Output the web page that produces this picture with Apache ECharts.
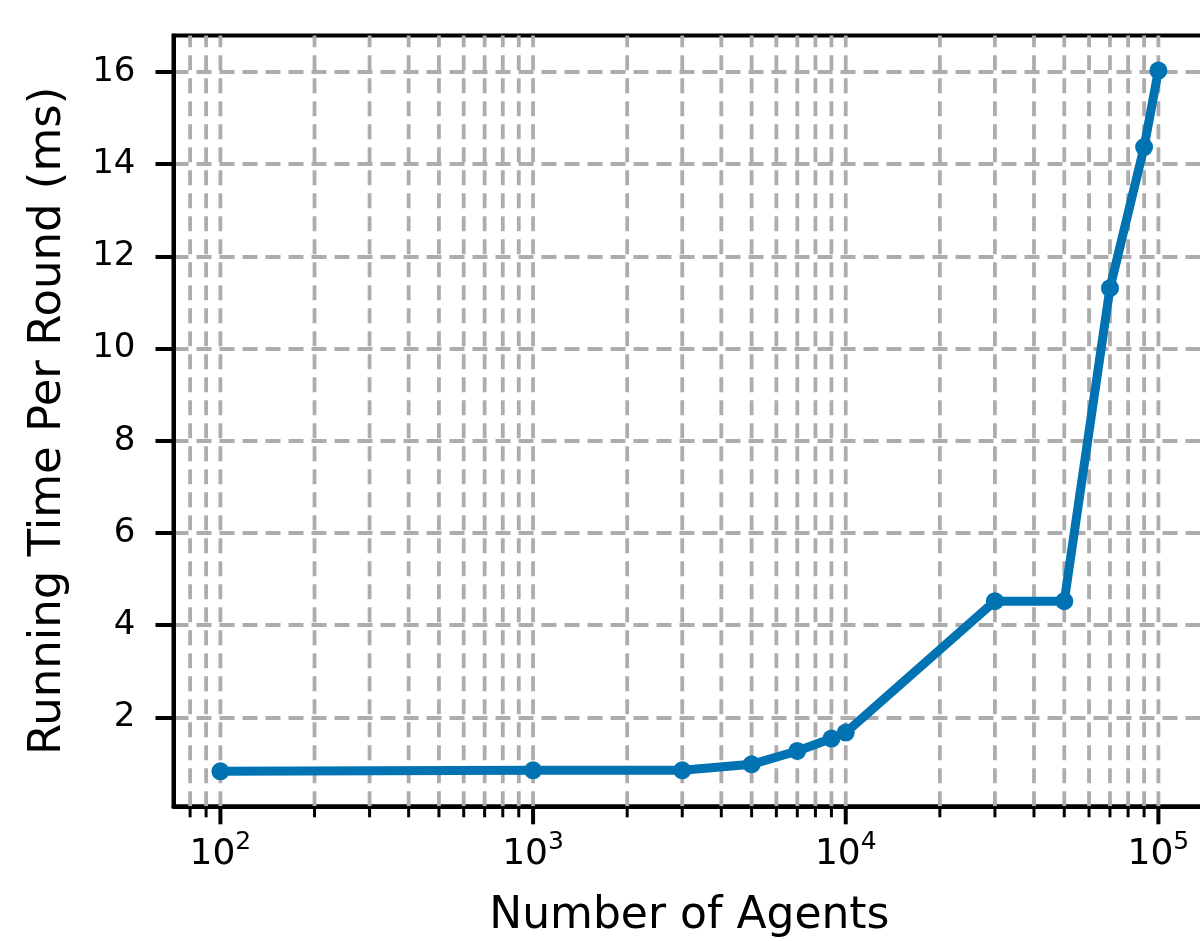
<!DOCTYPE html>
<html>
<head>
<meta charset="utf-8">
<script src="https://cdn.jsdelivr.net/npm/echarts@6/dist/echarts.min.js"></script>
<style>
html,body{margin:0;padding:0;background:#fff;}
#chart{width:1200px;height:941px;}
</style>
</head>
<body>
<div id="chart"></div>
<script>
// ---- data ----
const agents = [100, 1000, 3000, 5000, 7000, 9000, 10000, 30000, 50000, 70000, 90000, 100000];
const runtimeMs = [0.83, 0.85, 0.85, 0.98, 1.27, 1.54, 1.67, 4.52, 4.52, 11.31, 14.37, 16.03];
const xMajorTicks = [100, 1000, 10000, 100000];
const xMinorTicks = [80, 90, 200, 300, 400, 500, 600, 700, 800, 900,
  2000, 3000, 4000, 5000, 6000, 7000, 8000, 9000,
  20000, 30000, 40000, 50000, 60000, 70000, 80000, 90000];
const yTicks = [2, 4, 6, 8, 10, 12, 14, 16];
const xRange = [70.79, 141254];
const yRange = [0.07, 16.79];
const xTitle = 'Number of Agents';
const yTitle = 'Running Time Per Round (ms)';

// ---- styles ----
const FONT = 'DejaVu Sans';
const GRID_COLOR = '#adadad';
const LINE_COLOR = '#0173b2';
const DASH = [15, 8];

const tickData = xMajorTicks.map(v => [v, 1]).concat(xMinorTicks.map(v => [v, 0]));

const chart = echarts.init(document.getElementById('chart'), null, {renderer: 'canvas'});
chart.setOption({
  animation: false,
  backgroundColor: '#ffffff',
  grid: {
    left: 173.5, top: 35.5, right: -5.3, bottom: 134.7,
    show: true, borderColor: '#000', borderWidth: 4, backgroundColor: 'transparent',
    containLabel: false, outerBoundsMode: 'none'
  },
  xAxis: {
    type: 'log', logBase: 10, min: xRange[0], max: xRange[1],
    name: xTitle, nameLocation: 'middle', nameGap: 88,
    nameTextStyle: {fontFamily: FONT, fontSize: 44, color: '#000'},
    axisLine: {show: true, lineStyle: {color: '#000', width: 4}},
    axisTick: {show: false},
    splitLine: {show: false},
    minorTick: {show: false}, minorSplitLine: {show: false},
    axisLabel: {
      margin: 24, color: '#000', fontFamily: FONT,
      showMinLabel: false, showMaxLabel: false,
      formatter: function (v) {
        const e = Math.log10(v);
        if (Math.abs(e - Math.round(e)) > 1e-6) return '';
        return '{b|10}{s|' + Math.round(e) + '}';
      },
      rich: {
        b: {fontFamily: FONT, fontSize: 36, color: '#000', lineHeight: 42, verticalAlign: 'bottom'},
        s: {fontFamily: FONT, fontSize: 25, color: '#000', lineHeight: 25, verticalAlign: 'top'}
      }
    }
  },
  yAxis: {
    type: 'value', min: yRange[0], max: yRange[1],
    name: yTitle, nameLocation: 'middle', nameGap: 103,
    nameTextStyle: {fontFamily: FONT, fontSize: 45, color: '#000'},
    axisLine: {show: true, lineStyle: {color: '#000', width: 4}},
    axisTick: {show: true, customValues: yTicks, length: 18, lineStyle: {color: '#000', width: 4}},
    axisLabel: {customValues: yTicks, margin: 38, fontFamily: FONT, fontSize: 34, color: '#000'},
    splitLine: {show: true, lineStyle: {color: GRID_COLOR, width: 3.8, type: DASH}}
  },
  series: [
    {
      name: 'ticks', type: 'custom', z: 1, clip: false, silent: true,
      data: tickData,
      encode: {x: 0},
      renderItem: function (params, api) {
        const v = api.value(0);
        const major = api.value(1) === 1;
        const b = api.coord([v, yRange[0]]);
        const t = api.coord([v, yRange[1]]);
        return {
          type: 'group',
          children: [
            {type: 'line', shape: {x1: b[0], y1: b[1], x2: t[0], y2: t[1]},
             style: {stroke: GRID_COLOR, lineWidth: 3.8, lineDash: DASH}},
            {type: 'line', shape: {x1: b[0], y1: b[1], x2: b[0], y2: b[1] + (major ? 18 : 11)},
             style: {stroke: '#000', lineWidth: major ? 4 : 3}}
          ]
        };
      }
    },
    {
      name: 'runtime', type: 'line', z: 3,
      data: agents.map((a, i) => [a, runtimeMs[i]]),
      symbol: 'circle', symbolSize: 18,
      lineStyle: {color: LINE_COLOR, width: 9},
      itemStyle: {color: LINE_COLOR}
    }
  ]
});
</script>
</body>
</html>
